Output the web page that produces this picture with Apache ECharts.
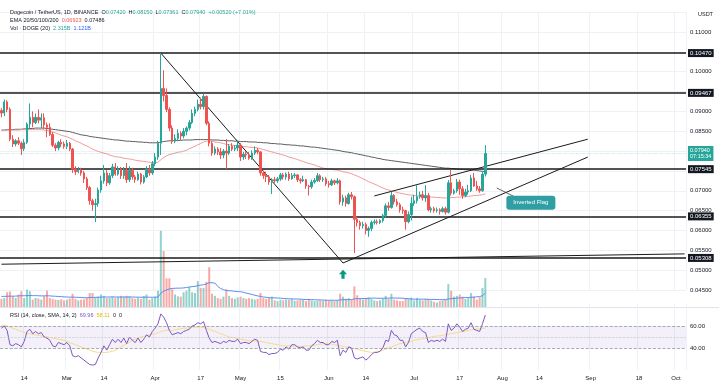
<!DOCTYPE html>
<html><head><meta charset="utf-8">
<script src="https://cdn.jsdelivr.net/npm/echarts@6/dist/echarts.min.js"></script>
<style>html,body{margin:0;padding:0;background:#fff}#c{width:719px;height:386px}</style>
</head><body><div id="c"></div>
<script>
const startDate = '2023-02-06';
const totalDays = 241;
const tickDates = ['2023-02-14','2023-03-01','2023-03-14','2023-04-01','2023-04-17','2023-05-01','2023-05-15','2023-06-01','2023-06-14','2023-07-01','2023-07-17','2023-08-01','2023-08-14','2023-09-01','2023-09-18','2023-10-01'];
const tickLabels = ['14','Mar','14','Apr','17','May','15','Jun','14','Jul','17','Aug','14','Sep','18','Oct'];
const priceTicks = {min:0.045, max:0.115, step:0.005};

// [open, high, low, close]
const ohlc = [
[.0902,.0908,.0885,.0896],[.0896,.0930,.0888,.0924],[.0924,.0928,.0898,.0905],[.0905,.0910,.0825,.0830],[.0830,.0840,.0810,.0818],
[.0818,.0830,.0812,.0826],[.0826,.0835,.0815,.0820],[.0820,.0824,.0790,.0806],[.0806,.0830,.0800,.0822],[.0822,.0872,.0818,.0868],
[.0868,.0920,.0855,.0885],[.0885,.0900,.0860,.0872],[.0872,.0895,.0868,.0885],[.0885,.0905,.0870,.0878],[.0878,.0895,.0858,.0884],
[.0884,.0895,.0855,.0866],[.0866,.0872,.0835,.0860],[.0860,.0870,.0838,.0842],[.0842,.0848,.0810,.0815],[.0815,.0820,.0800,.0808],
[.0808,.0826,.0802,.0822],[.0822,.0830,.0810,.0818],[.0818,.0824,.0806,.0812],[.0812,.0828,.0805,.0820],[.0820,.0823,.0800,.0805],
[.0805,.0808,.0745,.0755],[.0755,.0762,.0740,.0748],[.0748,.0760,.0744,.0752],[.0752,.0758,.0738,.0745],[.0745,.0750,.0720,.0730],
[.0730,.0735,.0702,.0708],[.0708,.0712,.0665,.0675],[.0675,.0680,.0650,.0665],[.0665,.0680,.0621,.0668],[.0668,.0708,.0660,.0702],
[.0702,.0738,.0695,.0725],[.0725,.0765,.0718,.0745],[.0745,.0752,.0712,.0720],[.0720,.0745,.0715,.0738],[.0738,.0768,.0732,.0760],
[.0760,.0770,.0738,.0742],[.0742,.0762,.0738,.0755],[.0755,.0760,.0730,.0738],[.0738,.0760,.0730,.0752],[.0752,.0770,.0720,.0728],
[.0728,.0762,.0722,.0752],[.0752,.0758,.0728,.0735],[.0735,.0740,.0720,.0728],[.0728,.0748,.0725,.0742],[.0742,.0745,.0716,.0722],
[.0722,.0740,.0718,.0735],[.0735,.0762,.0732,.0755],[.0755,.0765,.0738,.0745],[.0745,.0775,.0740,.0768],[.0768,.0795,.0762,.0785],
[.0785,.0826,.0778,.0820],[.0820,.1047,.0790,.0958],[.0958,.1004,.0925,.0940],[.0940,.0958,.0898,.0905],[.0905,.0910,.0850,.0858],
[.0858,.0865,.0818,.0825],[.0825,.0842,.0820,.0832],[.0832,.0855,.0825,.0845],[.0845,.0850,.0828,.0838],[.0838,.0858,.0832,.0850],
[.0850,.0862,.0840,.0858],[.0858,.0878,.0852,.0872],[.0872,.0905,.0868,.0895],[.0895,.0912,.0888,.0905],[.0905,.0930,.0900,.0918],
[.0918,.0935,.0905,.0912],[.0912,.0945,.0905,.0938],[.0938,.0940,.0865,.0870],[.0870,.0875,.0812,.0820],[.0820,.0825,.0788,.0795],
[.0795,.0812,.0790,.0805],[.0805,.0810,.0790,.0798],[.0798,.0808,.0780,.0790],[.0790,.0805,.0782,.0800],[.0800,.0830,.0755,.0795],
[.0795,.0818,.0790,.0812],[.0812,.0820,.0800,.0805],[.0805,.0815,.0800,.0808],[.0808,.0825,.0800,.0815],[.0815,.0820,.0775,.0785],
[.0785,.0798,.0778,.0792],[.0792,.0800,.0780,.0790],[.0790,.0798,.0778,.0782],[.0782,.0802,.0778,.0795],[.0795,.0812,.0790,.0802],
[.0802,.0808,.0792,.0798],[.0798,.0800,.0738,.0745],[.0745,.0750,.0730,.0738],[.0738,.0748,.0722,.0735],[.0735,.0740,.0715,.0722],
[.0722,.0732,.0692,.0728],[.0728,.0735,.0720,.0725],[.0725,.0735,.0720,.0730],[.0730,.0745,.0725,.0740],[.0740,.0745,.0728,.0735],
[.0735,.0746,.0728,.0742],[.0742,.0748,.0725,.0730],[.0730,.0745,.0728,.0738],[.0738,.0745,.0732,.0740],[.0740,.0742,.0722,.0728],
[.0728,.0732,.0718,.0725],[.0725,.0738,.0722,.0728],[.0728,.0730,.0705,.0712],[.0712,.0715,.0688,.0710],[.0710,.0728,.0705,.0722],
[.0722,.0732,.0718,.0726],[.0726,.0745,.0722,.0738],[.0738,.0742,.0722,.0728],[.0728,.0735,.0722,.0730],[.0730,.0735,.0712,.0718],
[.0718,.0725,.0708,.0715],[.0715,.0730,.0712,.0725],[.0725,.0728,.0715,.0720],[.0720,.0732,.0716,.0725],[.0725,.0728,.0665,.0672],
[.0672,.0690,.0662,.0682],[.0682,.0688,.0660,.0668],[.0668,.0695,.0665,.0690],[.0690,.0697,.0678,.0685],[.0685,.0688,.0543,.0628],
[.0628,.0635,.0610,.0620],[.0620,.0625,.0602,.0612],[.0612,.0622,.0605,.0615],[.0615,.0620,.0590,.0600],[.0600,.0610,.0584,.0605],
[.0605,.0625,.0598,.0620],[.0620,.0628,.0615,.0622],[.0622,.0628,.0615,.0620],[.0620,.0628,.0616,.0625],[.0625,.0642,.0620,.0638],
[.0638,.0668,.0632,.0662],[.0662,.0672,.0650,.0658],[.0658,.0698,.0655,.0688],[.0688,.0692,.0665,.0672],[.0672,.0680,.0660,.0665],
[.0665,.0670,.0645,.0652],[.0652,.0660,.0642,.0650],[.0650,.0652,.0602,.0622],[.0622,.0648,.0618,.0640],[.0640,.0685,.0625,.0668],
[.0668,.0690,.0662,.0675],[.0675,.0714,.0668,.0685],[.0685,.0698,.0680,.0690],[.0690,.0700,.0675,.0682],[.0682,.0714,.0672,.0688],
[.0688,.0695,.0648,.0652],[.0652,.0660,.0645,.0655],[.0655,.0660,.0645,.0650],[.0650,.0658,.0645,.0652],[.0652,.0656,.0640,.0648],
[.0648,.0660,.0645,.0655],[.0655,.0660,.0640,.0646],[.0646,.0727,.0643,.0720],[.0720,.0752,.0688,.0694],[.0694,.0705,.0690,.0700],
[.0700,.0730,.0695,.0722],[.0722,.0728,.0690,.0705],[.0705,.0712,.0680,.0688],[.0688,.0705,.0684,.0697],[.0697,.0715,.0690,.0700],
[.0700,.0740,.0697,.0732],[.0732,.0745,.0710,.0712],[.0712,.0725,.0700,.0705],[.0705,.0712,.0695,.0700],[.0700,.0748,.0698,.0742],
[.0742,.0815,.0736,.0794]
];

const volume = [
.65,.71,1.18,1.24,.86,.72,.99,1.26,.72,1.39, 1.26,.59,.72,.68,.59,.86,1.31,.72,.65,.59,
.57,.61,.53,.59,.68,1.06,.65,.53,.59,.61, .71,1.12,1.12,.77,.83,1.00,.89,.71,.73,.83,
.71,.80,.89,.83,.89,.85,.71,.65,.73,.65, .89,1.00,.59,.71,.83,1.30,6.10,4.48,2.30,2.30,
1.42,1.00,.85,.83,1.18,1.30,1.59,1.18,1.12,2.07, 1.53,1.53,2.01,3.19,1.06,.89,.71,.65,.83,1.42,
.89,.71,.65,.77,.83,.71,.65,.71,.65,.59, .65,1.12,.71,.65,.71,.83,.53,.47,.59,.53,
.59,.57,.65,.50,.53,.59,.57,.47,.65,.53, .47,.50,.53,.47,.57,.50,.53,.47,.53,1.06,
.83,.65,.71,.59,1.65,.94,.65,.59,.71,.77, .65,.53,.47,.53,.65,.89,.65,1.06,.59,.53,
.47,.47,.71,.65,.77,.53,.71,.59,.53,.65, .65,.53,.41,.35,.47,.53,.59,1.83,1.30,.83,
.89,1.00,.83,.65,.71,1.12,.83,.59,.77,1.53, 2.315
];
const volumeMA = [
.85,.85,.86,.87,.87,.87,.89,.90,.90,.91, .92,.91,.91,.90,.89,.89,.90,.89,.87,.86,
.84,.83,.81,.80,.79,.79,.78,.77,.76,.74, .74,.76,.77,.77,.78,.79,.80,.80,.80,.81,
.80,.80,.80,.80,.80,.80,.80,.79,.79,.78, .78,.79,.78,.78,.78,.80,1.09,1.27,1.37,1.45,
1.49,1.50,1.51,1.51,1.53,1.56,1.60,1.63,1.65,1.71, 1.75,1.78,1.84,1.95,1.94,1.91,1.65,1.48,1.39,1.32,
1.30,1.29,1.25,1.23,1.22,1.18,1.11,1.06,1.01,.94, .89,.85,.80,.78,.74,.74,.73,.72,.71,.68,
.67,.66,.65,.64,.64,.63,.61,.60,.60,.59, .58,.57,.57,.55,.55,.54,.54,.54,.54,.57,
.58,.59,.59,.59,.65,.67,.67,.68,.68,.70, .71,.71,.70,.70,.70,.71,.71,.73,.72,.71,
.71,.70,.68,.67,.63,.63,.63,.63,.63,.63, .61,.61,.61,.60,.59,.59,.59,.64,.67,.68,
.71,.73,.74,.76,.76,.78,.79,.81,.84,.90, 1.121
];
const ema50 = [
.0852,.0852,.0853,.0853,.0853,.0853,.0853,.0854,.0854,.0854, .0854,.0854,.0854,.0854,.0854,.0853,.0852,.0850,.0848,.0846,
.0843,.0840,.0838,.0836,.0833,.0830,.0826,.0823,.0820,.0816, .0813,.0809,.0805,.0802,.0799,.0797,.0795,.0793,.0790,.0788,
.0786,.0785,.0784,.0782,.0781,.0780,.0779,.0777,.0776,.0775, .0774,.0773,.0772,.0771,.0771,.0772,.0778,.0784,.0788,.0791,
.0793,.0795,.0797,.0798,.0800,.0802,.0806,.0809,.0812,.0816, .0819,.0823,.0825,.0826,.0825,.0823,.0822,.0821,.0819,.0817,
.0816,.0815,.0814,.0814,.0813,.0812,.0811,.0810,.0809,.0809, .0808,.0806,.0804,.0802,.0800,.0798,.0796,.0794,.0792,.0790,
.0788,.0785,.0783,.0781,.0779,.0776,.0774,.0771,.0769,.0767, .0765,.0762,.0760,.0757,.0756,.0755,.0754,.0753,.0752,.0750,
.0748,.0747,.0745,.0743,.0740,.0737,.0734,.0730,.0727,.0723, .0720,.0717,.0714,.0710,.0707,.0704,.0702,.0700,.0698,.0696,
.0694,.0693,.0691,.0690,.0689,.0688,.0687,.0687,.0686,.0686, .0685,.0684,.0684,.0683,.0683,.0682,.0682,.0682,.0683,.0683,
.0684,.0684,.0685,.0685,.0686,.0687,.0688,.0688,.0689,.0690, .06923
];
const ema200 = [
.0853,.0853,.0854,.0854,.0854,.0855,.0855,.0855,.0856,.0856, .0857,.0857,.0858,.0858,.0858,.0858,.0857,.0856,.0855,.0854,
.0853,.0852,.0851,.0850,.0849,.0847,.0845,.0843,.0841,.0840, .0839,.0837,.0836,.0835,.0834,.0833,.0832,.0831,.0830,.0829,
.0828,.0828,.0827,.0826,.0825,.0825,.0824,.0824,.0823,.0823, .0822,.0822,.0821,.0821,.0821,.0821,.0823,.0824,.0825,.0826,
.0826,.0827,.0827,.0827,.0828,.0828,.0828,.0828,.0829,.0829, .0829,.0829,.0829,.0829,.0828,.0828,.0828,.0827,.0827,.0826,
.0826,.0826,.0825,.0825,.0824,.0824,.0824,.0823,.0823,.0823, .0822,.0822,.0821,.0821,.0820,.0819,.0819,.0818,.0818,.0817,
.0816,.0816,.0815,.0815,.0814,.0813,.0813,.0812,.0811,.0810, .0810,.0809,.0808,.0807,.0806,.0805,.0804,.0803,.0802,.0801,
.0799,.0798,.0797,.0796,.0794,.0793,.0791,.0790,.0788,.0787, .0785,.0784,.0782,.0781,.0779,.0778,.0777,.0776,.0775,.0774,
.0773,.0772,.0771,.0770,.0769,.0768,.0767,.0766,.0765,.0764, .0763,.0762,.0761,.0760,.0759,.0758,.0757,.0757,.0756,.0756,
.0755,.0754,.0754,.0753,.0753,.0752,.0752,.0751,.0750,.0749, .07486
];
const rsi = [
58,60,56,43,42,44,43,41,46,55, 57,53,55,53,54,50,49,47,42,41,
45,44,43,45,42,33,32,33,31,29, 27,25,24.5,25,31,36,42,38,43,48,
45,48,45,49,44,50,47,45,49,45, 48,52,50,55,58,62,71,68,63,56,
52,53,54,53,55,56,57,60,61,63, 62,64,56,49,45,46,45,44,46,45,
47,46,46,48,44,45,45,44,46,48, 47,37,36,36,34,35,35,36,39,38,
41,39,43,43,41,40,41,38,38,42, 44,47,45,45,43,43,46,45,47,33,
38,36,41,40,31,30,31,32,29,31, 34,36,36,37,40,47,46,56,52,51,
47,47,41,45,53,55,57,58,55,54, 45,47,46,47,46,48,46,62,56,58,
62,59,55,57,58,63,57,56,55,62, 69.96
];
const rsiMA = [
61,60.5,60,59,58,57,56,55,54,53.5, 53,52.5,52,51.5,51,50.5,50,49.5,49,48.5,
48,47.5,47,46,45,44,43,42,41,40, 39,38,37,36.5,36,36,36,36,36.5,37,
38,39.5,41,42.5,44,45.5,47,48,49,50, 50.5,51,52,52.5,53,54,55,55.5,56,56,
56,56.5,57,57.5,58,58,58.5,59,59,59, 59,58.5,58,57,56,55,54,53,52,51,
50,49.5,49,48.5,48,47.5,47,46.5,46.5,46.5, 46,46,45.5,45,44.5,44,43.5,43,42.5,42,
42,42,41.5,41.5,41.5,41.5,41.5,42,42,42, 42.5,43,43.5,44,44,44,43.5,43,42.5,42,
41.5,41,40.5,40,39.5,39,38,37.5,37,36.5, 36,36,36.5,37,38,39,40,41,42,43,
44,44.5,45,45.5,46,47,47.5,48,48.5,49, 49.5,50,50.5,51,51,51.5,52,52.5,53,53.5,
54,54.5,55,55.5,56,56.5,57,57,57.5,57.8, 58.11
];

const levels = [0.10470, 0.09467, 0.07545, 0.06355, 0.05308];
const trendLines = [
  [['2023-04-03',0.1047],['2023-06-06',0.0518]],
  [['2023-06-06',0.0518],['2023-08-31',0.0785]],
  [['2023-06-17',0.0687],['2023-08-31',0.0830]],
  [['2023-02-06',0.0515],['2023-10-04',0.0541]]
];
const pointerLine = [['2023-07-30',0.0707],['2023-08-05',0.0686]];
const lastPrice = 0.07940;
const flagNote = {date:'2023-08-11', price:0.0670, text:'Inverted Flag'};
const arrowMark = {date:'2023-06-06', price:0.0490};

// categories
const dates = [];
(function(){
  const s = new Date(startDate + 'T00:00:00Z');
  for (let i = 0; i < totalDays; i++) {
    const d = new Date(s.getTime() + i*86400000);
    dates.push(d.toISOString().slice(0,10));
  }
})();

const UP = '#26a69a', DOWN = '#ef5350', INK = '#131722';
const FONT = 'Liberation Sans';
const candleData = ohlc.map(r => [r[0], r[3], r[2], r[1]]);
const volData = volume.map((v,i) => ({value:v, itemStyle:{color: ohlc[i][3] >= ohlc[i][0] ? 'rgba(38,166,154,0.5)' : 'rgba(239,83,80,0.5)'}}));

const showTick = (idx, val) => tickDates.indexOf(val) >= 0;
const fmtTick = (val) => { const k = tickDates.indexOf(val); return k >= 0 ? tickLabels[k] : ''; };

function xAx(gi, showLabels) {
  return {
    type:'category', data:dates, gridIndex:gi, boundaryGap:true,
    axisLine:{show:false}, axisTick:{show:false},
    axisLabel:{show:showLabels, interval:showTick, formatter:fmtTick, fontSize:6, color:INK, fontFamily:FONT, margin:5},
    splitLine:{show:gi!==1, interval:showTick, lineStyle:{color:'#eef1f6', width:1}}
  };
}

const lvlMarks = levels.map(v => ({
  yAxis:v,
  lineStyle:{color:'#1b1b1b', width:1.6, type:'solid'},
  label:{show:true, position:'end', distance:2, formatter:v.toFixed(5), backgroundColor:'#131722', color:'#fff', fontSize:6, fontFamily:FONT, padding:[1,2,1,2]}
}));
const lastMark = {
  yAxis:lastPrice,
  lineStyle:{color:'rgba(38,166,154,0.45)', width:0.6, type:'dotted'},
  label:{show:true, position:'end', distance:2, formatter:lastPrice.toFixed(5)+'\n07:15:34', backgroundColor:UP, color:'#ffffff', fontSize:5.5, lineHeight:6.5, fontFamily:FONT, padding:[1,2,1,2]}
};
const tlMarks = trendLines.map(t => [
  {coord:t[0], lineStyle:{color:'#1b1b1b', width:1, type:'solid'}, label:{show:false}},
  {coord:t[1]}
]);
tlMarks.push([
  {coord:pointerLine[0], lineStyle:{color:'#3a3a3a', width:0.8, type:'solid', curveness:0.35}, label:{show:false}},
  {coord:pointerLine[1]}
]);

const option = {
  animation:false,
  backgroundColor:'#ffffff',
  textStyle:{fontFamily:FONT},
  title:[
    {left:5, top:4, text:'{a|Dogecoin / TetherUS, 1D, BINANCE}  {a|O}{v|0.07420}  {a|H}{v|0.08150}  {a|L}{v|0.07361}  {a|C}{v|0.07940}  {v|+0.00520 (+7.01%)}',
     textStyle:{fontSize:5.5, fontWeight:'normal', rich:{a:{color:INK, fontSize:5.5, fontFamily:FONT}, v:{color:UP, fontSize:5.5, fontFamily:FONT}}}},
    {left:5, top:12, text:'{a|EMA 20/50/100/200}  {r|0.06923}  {a|0.07486}',
     textStyle:{fontSize:5.5, fontWeight:'normal', rich:{a:{color:INK, fontSize:5.5, fontFamily:FONT}, r:{color:'#ef5350', fontSize:5.5, fontFamily:FONT}}}},
    {left:5, top:20, text:'{a|Vol · DOGE (20)}  {v|2.315B}  {b|1.121B}',
     textStyle:{fontSize:5.5, fontWeight:'normal', rich:{a:{color:INK, fontSize:5.5, fontFamily:FONT}, v:{color:UP, fontSize:5.5, fontFamily:FONT}, b:{color:'#2962ff', fontSize:5.5, fontFamily:FONT}}}},
    {left:5, top:307, text:'{a|RSI (14, close, SMA, 14, 2)}  {p|69.96}  {y|58.11}  {a|0  0}',
     textStyle:{fontSize:5.5, fontWeight:'normal', rich:{a:{color:INK, fontSize:5.5, fontFamily:FONT}, p:{color:'#7e57c2', fontSize:5.5, fontFamily:FONT}, y:{color:'#e6b800', fontSize:5.5, fontFamily:FONT}}}},
    {left:693, top:6, text:'USDT', textStyle:{fontSize:5.5, fontWeight:'normal', color:INK, fontFamily:FONT}}
  ],
  grid:[
    {left:0, right:33, top:12.2, height:277.8},
    {left:0, right:33, top:157, height:150},
    {left:0, right:33, top:304, height:66}
  ],
  xAxis:[xAx(0,false), xAx(1,false), xAx(2,true)],
  yAxis:[
    {type:'value', gridIndex:0, position:'right', min:priceTicks.min, max:priceTicks.max, interval:priceTicks.step,
     axisLine:{show:false}, axisTick:{show:false},
     axisLabel:{fontSize:6, color:INK, fontFamily:FONT, margin:4, showMaxLabel:false, formatter:v=>v.toFixed(5)},
     splitLine:{lineStyle:{color:'#eef1f6'}}},
    {type:'value', gridIndex:1, min:0, max:12, show:false, splitLine:{show:false}},
    {type:'value', gridIndex:2, position:'right', min:20, max:80, interval:20,
     axisLine:{show:false}, axisTick:{show:false},
     axisLabel:{fontSize:6, color:INK, fontFamily:FONT, margin:4, showMaxLabel:false, showMinLabel:false, formatter:v=>v.toFixed(2)},
     splitLine:{show:false}}
  ],
  series:[
    {type:'bar', name:'Volume', xAxisIndex:1, yAxisIndex:1, data:volData, barWidth:'70%', z:1},
    {type:'line', name:'VolMA', xAxisIndex:1, yAxisIndex:1, data:volumeMA, symbol:'none', lineStyle:{color:'#5b8def', width:1}, z:2},
    {type:'line', name:'EMA200', xAxisIndex:0, yAxisIndex:0, data:ema200, symbol:'none', lineStyle:{color:'#5d5d5d', width:1}, z:3,
     markLine:{silent:true, precision:6, symbol:['none','none'], animation:false, data:[...lvlMarks, lastMark]}},
    {type:'line', name:'EMA50', xAxisIndex:0, yAxisIndex:0, data:ema50, symbol:'none', lineStyle:{color:'#f29b9b', width:1}, z:3},
    {type:'candlestick', name:'DOGEUSDT', xAxisIndex:0, yAxisIndex:0, data:candleData, barWidth:'68%', z:5,
     itemStyle:{color:UP, color0:DOWN, borderColor:UP, borderColor0:DOWN, borderWidth:1},
     markLine:{silent:true, precision:6, symbol:['none','none'], animation:false, data:tlMarks},
     markPoint:{silent:true, animation:false, data:[
       {coord:[flagNote.date, flagNote.price], symbol:'rect', symbolSize:0,
        label:{show:true, position:'inside', formatter:flagNote.text, backgroundColor:'#2f9fa4', borderRadius:3, color:'#fff', fontSize:6, fontFamily:FONT, padding:[4,7,4,7]}},
       {coord:[arrowMark.date, arrowMark.price], symbol:'path://M5,0 L10,5 L7,5 L7,10 L3,10 L3,5 L0,5 Z', symbolSize:[8,9], itemStyle:{color:'#089981'}, label:{show:false}}
     ]}},
    {type:'line', name:'RSI', xAxisIndex:2, yAxisIndex:2, data:rsi, symbol:'none', lineStyle:{color:'#7e57c2', width:1}, z:3,
     markArea:{silent:true, itemStyle:{color:'rgba(126,87,194,0.09)'}, data:[[{yAxis:40},{yAxis:60}]]},
     markLine:{silent:true, symbol:['none','none'], label:{show:false}, lineStyle:{color:'#9598a1', type:'dashed', width:0.8},
       data:[{yAxis:60},{yAxis:50, lineStyle:{color:'#c0c3cc', type:'dashed', width:0.6}},{yAxis:40}]}},
    {type:'line', name:'RSI MA', xAxisIndex:2, yAxisIndex:2, data:rsiMA, symbol:'none', lineStyle:{color:'#f5dc8a', width:1}, z:2}
  ],
  graphic:[
    {type:'line', shape:{x1:0, y1:307.5, x2:719, y2:307.5}, style:{stroke:'#e0e3eb', lineWidth:1}, z:0}
  ]
};
const chart = echarts.init(document.getElementById('c'));
chart.setOption(option);
</script>
</body></html>
